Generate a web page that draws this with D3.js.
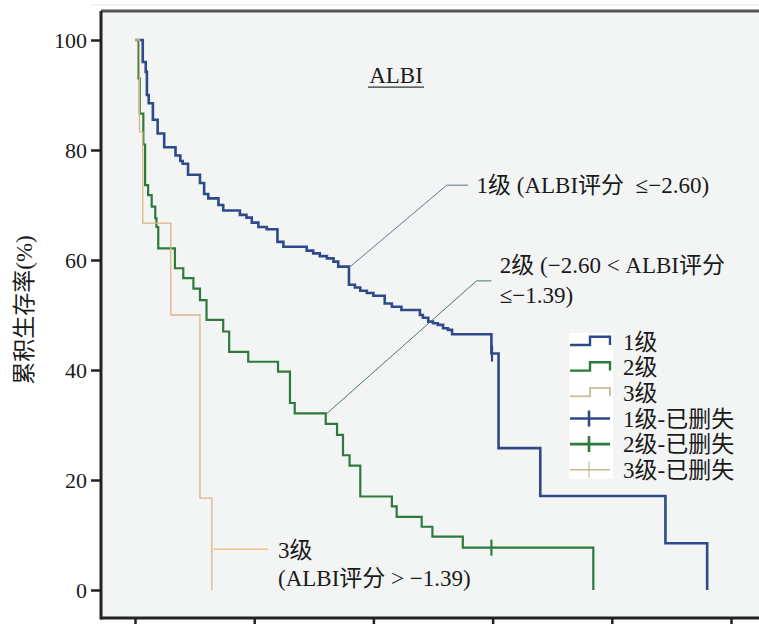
<!DOCTYPE html>
<html>
<head>
<meta charset="utf-8">
<script src="https://cdn.jsdelivr.net/npm/d3@7"></script>
<style>
  body { margin: 0; background: #fff; }
  svg { display: block; }
  text { font-family: "Liberation Serif", "Noto Sans CJK SC", serif; fill: #1a1a1a; }
</style>
</head>
<body>
<svg></svg>
<script>
// Dimensions
const width = 759, height = 624;
const svg = d3.select("svg").attr("width", width).attr("height", height);
const serif = '"Liberation Serif", "Noto Sans CJK SC", serif';

// Data (time on a 0-100 axis, survival in %)
const xTicks = [0, 20, 40, 60, 80, 100];
const yTicks = [0, 20, 40, 60, 80, 100];
const groups = ["1级", "2级", "3级"];

const grade1 = [[0,100],[1.3,96],[1.8,94.2],[2.0,90],[2.3,88.5],[3.0,85.5],[3.8,83],[4.9,80.5],[6.8,79],[7.6,78],[8.0,77.5],
  [8.9,75.5],[10.9,74],[11.6,72],[12.3,71.2],[14.0,70],[14.8,69],[17.6,68.2],[18.7,67.7],[19.6,66.8],[20.7,66],[22.1,65.6],
  [23.9,63.3],[24.9,62.4],[28.8,61.7],[29.9,61.2],[31.0,60.7],[32.2,60.3],[33.3,59.7],[34.1,58.8],[35.9,55.5],[36.9,55],
  [37.8,54.4],[38.9,54],[40.0,53.5],[41.9,52.1],[43.1,51.5],[44.7,50.9],[47.8,50],[48.3,49.5],[49.2,48.8],[50.0,48.5],
  [50.8,48.2],[51.7,47.6],[52.5,47.3],[53.2,46.5],[59.8,43],[61.0,25.8],[68.0,17.1],[89.0,8.5],[96.0,0]];
const grade2 = [[0,100],[0.6,93],[0.8,86.6],[1.4,81],[1.7,73.6],[2.2,71.8],[2.8,69.7],[3.4,67.6],[3.6,66],[3.9,62.1],
  [6.7,58.5],[8.1,56.7],[9.8,54.8],[10.9,52.7],[12.0,49.1],[14.8,47],[15.8,43.3],[19.0,41.5],[24.0,39.7],[26.0,34],
  [26.8,32.1],[32.0,30.2],[33.9,28.2],[34.9,24.5],[36.0,22.6],[37.8,17],[43.1,15.2],[43.9,13.3],[48.1,11.5],[49.9,9.7],
  [55.0,7.7],[76.9,0]];
const grade3 = [[0,100],[0.75,83.3],[1.3,66.7],[6.0,50],[10.9,16.7],[12.9,0]];

const censor1 = [[59.9, 43]];
const censor2 = [[59.8, 7.7]];
const censor3 = [];

const legendLabels = ["1级", "2级", "3级", "1级-已删失", "2级-已删失", "3级-已删失"];

// Colors
const colors = ["#2f4a8a", "#2c7a3c", "#d9b586"];

// Scales
const x = d3.scaleLinear().domain([0, 100]).range([135, 731]);
const y = d3.scaleLinear().domain([0, 100]).range([590, 40]);

// Plot frame
const frame = {left: 101, top: 11, bottom: 618};
svg.append("line").attr("x1", 90).attr("x2", width).attr("y1", 5).attr("y2", 5)
  .attr("stroke", "#e8e8e8").attr("stroke-width", 1);
svg.append("rect").attr("x", frame.left).attr("y", frame.top)
  .attr("width", width - frame.left).attr("height", frame.bottom - frame.top)
  .attr("fill", "#f3f4f4");
svg.append("line").attr("x1", frame.left).attr("x2", width).attr("y1", frame.top).attr("y2", frame.top)
  .attr("stroke", "#555").attr("stroke-width", 3);

// Axes
const yAxis = svg.append("g").attr("transform", `translate(${frame.left},0)`)
  .call(d3.axisLeft(y).tickValues(yTicks).tickSize(10).tickPadding(4))
  .attr("font-family", serif).attr("font-size", 22);
yAxis.select(".domain").remove();
yAxis.append("line").attr("x1", 0).attr("x2", 0).attr("y1", frame.top).attr("y2", frame.bottom + 1.5)
  .attr("stroke", "#222").attr("stroke-width", 3);
yAxis.selectAll(".tick line").attr("stroke", "#222").attr("stroke-width", 2.5);
yAxis.selectAll(".tick text").attr("fill", "#1a1a1a");

const xAxis = svg.append("g").attr("transform", `translate(0,${frame.bottom})`)
  .call(d3.axisBottom(x).tickValues(xTicks).tickSize(10).tickFormat(""));
xAxis.select(".domain").remove();
xAxis.append("line").attr("x1", frame.left).attr("x2", width).attr("y1", 0).attr("y2", 0)
  .attr("stroke", "#222").attr("stroke-width", 3);
xAxis.selectAll(".tick line").attr("stroke", "#222").attr("stroke-width", 2.5);

// Y label
svg.append("text").attr("transform", "translate(32,310) rotate(-90)")
  .attr("text-anchor", "middle").style("font-size", "23px").attr("fill", "#333")
  .text("累积生存率(%)");

// Curves
const line = d3.line().x(d => x(d[0])).y(d => y(d[1])).curve(d3.curveStepAfter);
const series = [grade1, grade2, grade3];
const widths = [2.6, 2.2, 1.3];
series.forEach((s, i) => {
  svg.append("path").datum(s).attr("d", line).attr("fill", "none")
    .attr("stroke", colors[i]).attr("stroke-width", widths[i]);
});

// Censor marks
[censor1, censor2, censor3].forEach((c, i) => {
  svg.selectAll(null).data(c).enter().append("line")
    .attr("x1", d => x(d[0])).attr("x2", d => x(d[0]))
    .attr("y1", d => y(d[1]) - 8).attr("y2", d => y(d[1]) + 8)
    .attr("stroke", colors[i]).attr("stroke-width", 2.2);
});

// Title
svg.append("text").attr("x", x(43.8)).attr("y", y(93.6) + 8)
  .attr("text-anchor", "middle").style("font-size", "23px").text("ALBI");
svg.append("line").attr("x1", x(43.8) - 28).attr("x2", x(43.8) + 28)
  .attr("y1", y(93.6) + 12).attr("y2", y(93.6) + 12).attr("stroke", "#333").attr("stroke-width", 1.2);

// Annotations (leader lines + labels)
const leader = d3.line().x(d => x(d[0])).y(d => y(d[1]));
svg.append("path").datum([[35.9, 58.6], [52.3, 73.6], [55.9, 73.6]]).attr("d", leader)
  .attr("fill", "none").attr("stroke", "#5f7896").attr("stroke-width", 1);
svg.append("path").datum([[32.2, 32.1], [57.3, 56.2], [59.8, 56.2]]).attr("d", leader)
  .attr("fill", "none").attr("stroke", "#4a7868").attr("stroke-width", 1);
svg.append("path").datum([[13.1, 7.4], [22.3, 7.4]]).attr("d", leader)
  .attr("fill", "none").attr("stroke", "#f2c48a").attr("stroke-width", 1.6);

const annot = [
  {t: 57.3, v: 73.6, s: "1级 (ALBI评分  ≤−2.60)"},
  {t: 61.2, v: 59.1, s: "2级 (−2.60 < ALBI评分"},
  {t: 61.2, v: 53.6, s: "≤−1.39)"},
  {t: 24.0, v: 7.3, s: "3级"},
  {t: 24.0, v: 2.2, s: "(ALBI评分 > −1.39)"}
];
svg.selectAll(null).data(annot).enter().append("text")
  .attr("x", d => x(d.t)).attr("y", d => y(d.v)).attr("dy", "0.35em")
  .style("font-size", "23px").style("white-space", "pre").text(d => d.s);

// Legend
const legend = svg.append("g").attr("transform", "translate(569,0)");
legend.append("rect").attr("x", 0).attr("y", 333).attr("width", 44).attr("height", 146).attr("fill", "#fff");
legendLabels.forEach((lab, i) => {
  const cy = 341.7 + i * 25.6;
  const col = i % 3 === 2 ? (i < 3 ? "#cbc3a2" : "#c9b88e") : colors[i % 3];
  if (i < 3) {
    legend.append("path")
      .attr("d", `M1,${cy + 3.3}H21V${cy - 5}H41V${cy + 3.3}`)
      .attr("fill", "none").attr("stroke", col).attr("stroke-width", i === 2 ? 2 : 2.4);
  } else {
    legend.append("line").attr("x1", 1).attr("x2", 41).attr("y1", cy).attr("y2", cy)
      .attr("stroke", col).attr("stroke-width", i === 5 ? 1.4 : 2.6);
    legend.append("line").attr("x1", 20).attr("x2", 20).attr("y1", cy - 8).attr("y2", cy + 8)
      .attr("stroke", col).attr("stroke-width", i === 5 ? 1.2 : 2.6);
  }
  legend.append("text").attr("x", 54).attr("y", cy).attr("dy", "0.35em")
    .style("font-size", "23px").text(lab);
});
</script>
</body>
</html>
